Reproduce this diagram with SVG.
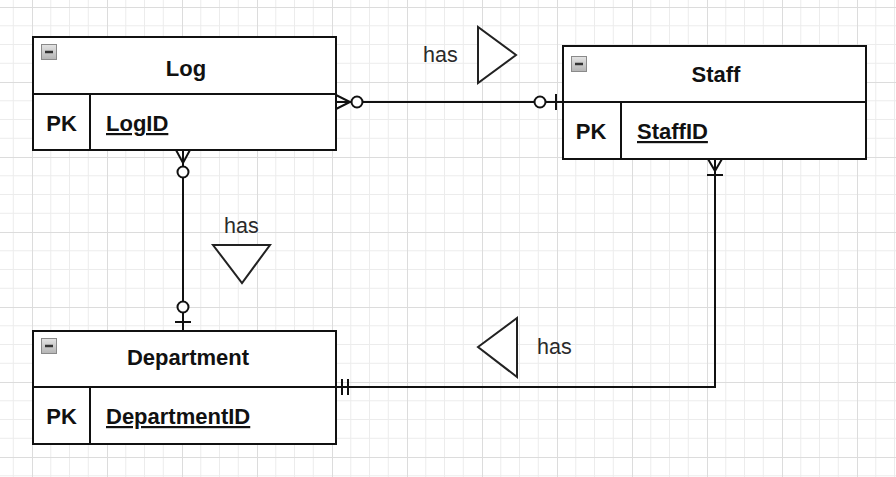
<svg xmlns="http://www.w3.org/2000/svg" width="896" height="477" viewBox="0 0 896 477">
  <defs>
    <pattern id="grid" patternUnits="userSpaceOnUse" x="32" y="7" width="75" height="75">
      <g stroke="#ececec" stroke-width="1">
        <line x1="18.75" y1="0" x2="18.75" y2="75"/>
        <line x1="37.5" y1="0" x2="37.5" y2="75"/>
        <line x1="56.25" y1="0" x2="56.25" y2="75"/>
        <line x1="0" y1="18.75" x2="75" y2="18.75"/>
        <line x1="0" y1="37.5" x2="75" y2="37.5"/>
        <line x1="0" y1="56.25" x2="75" y2="56.25"/>
      </g>
      <g stroke="#dcdcdc" stroke-width="1">
        <line x1="0.5" y1="0" x2="0.5" y2="75"/>
        <line x1="0" y1="0.5" x2="75" y2="0.5"/>
      </g>
    </pattern>
    <linearGradient id="btn" x1="0" y1="0" x2="0" y2="1">
      <stop offset="0" stop-color="#e4e4e4"/>
      <stop offset="1" stop-color="#b4b4b4"/>
    </linearGradient>
  </defs>
  <style>
    .ent { fill: #ffffff; stroke: #111111; stroke-width: 2; }
    .div { stroke: #111111; stroke-width: 2; }
    .title { font-family: "Liberation Sans", Arial, sans-serif; font-size: 22px; font-weight: bold; fill: #111111; text-anchor: middle; }
    .pk { font-family: "Liberation Sans", Arial, sans-serif; font-size: 22px; font-weight: bold; fill: #111111; text-anchor: middle; }
    .attr { font-family: "Liberation Sans", Arial, sans-serif; font-size: 22px; font-weight: bold; fill: #111111; text-decoration: underline; }
    .lbl { font-family: "Liberation Sans", Arial, sans-serif; font-size: 21.5px; fill: #2a2a2a; }
    .btn { fill: url(#btn); stroke: #8a8a8a; stroke-width: 1; }
    .dash { stroke: #333333; stroke-width: 2.5; }
    .conn { fill: none; stroke: #111111; stroke-width: 2; }
    .circ { fill: #ffffff; stroke: #111111; stroke-width: 2; }
    .tri { fill: #ffffff; stroke: #222222; stroke-width: 2; }
  </style>
  <rect x="0" y="0" width="896" height="477" fill="#ffffff"/>
  <rect x="0" y="0" width="896" height="477" fill="url(#grid)"/>

  <g id="connectors">
    <!-- Log - Staff -->
    <line class="conn" x1="336" y1="102" x2="563" y2="102"/>
    <polyline class="conn" points="336,95 350,102 336,109"/>
    <circle class="circ" cx="357" cy="102" r="5.5"/>
    <circle class="circ" cx="540" cy="102" r="5.5"/>
    <line class="conn" x1="556" y1="94" x2="556" y2="110"/>
    <!-- Log - Department -->
    <line class="conn" x1="183" y1="150" x2="183" y2="331"/>
    <polyline class="conn" points="176,150 183,163 190,150"/>
    <circle class="circ" cx="183" cy="172" r="5.5"/>
    <circle class="circ" cx="183" cy="307" r="5.5"/>
    <line class="conn" x1="175" y1="322" x2="191" y2="322"/>
    <!-- Staff - Department -->
    <polyline class="conn" points="715,159 715,387 336,387"/>
    <polyline class="conn" points="708,159 715,171 722,159"/>
    <line class="conn" x1="707" y1="175" x2="723" y2="175"/>
    <line class="conn" x1="342" y1="379" x2="342" y2="395"/>
    <line class="conn" x1="348" y1="379" x2="348" y2="395"/>
  </g>

  <g id="rel-log-staff">
    <polygon class="tri" points="478,27 478,83 516,55"/>
    <text class="lbl" x="423" y="62">has</text>
  </g>
  <g id="rel-log-dept">
    <polygon class="tri" points="213,245 270,245 242,283"/>
    <text class="lbl" x="224" y="233">has</text>
  </g>
  <g id="rel-staff-dept">
    <polygon class="tri" points="478,347 517,318 517,377"/>
    <text class="lbl" x="537" y="354">has</text>
  </g>

  <g id="log">
    <rect class="ent" x="33" y="37" width="303" height="113"/>
    <line class="div" x1="33" y1="94" x2="336" y2="94"/>
    <line class="div" x1="90" y1="94" x2="90" y2="150"/>
    <rect class="btn" x="41.5" y="44.5" width="15" height="15"/>
    <line class="dash" x1="45" y1="52" x2="53" y2="52"/>
    <text class="title" x="186" y="76">Log</text>
    <text class="pk" x="61.5" y="131">PK</text>
    <text class="attr" x="106" y="131">LogID</text>
  </g>

  <g id="staff">
    <rect class="ent" x="563" y="46" width="303" height="113"/>
    <line class="div" x1="563" y1="102" x2="866" y2="102"/>
    <line class="div" x1="621" y1="102" x2="621" y2="159"/>
    <rect class="btn" x="571.5" y="56.5" width="15" height="15"/>
    <line class="dash" x1="575" y1="64" x2="583" y2="64"/>
    <text class="title" x="716" y="82">Staff</text>
    <text class="pk" x="591" y="139">PK</text>
    <text class="attr" x="637" y="139">StaffID</text>
  </g>

  <g id="department">
    <rect class="ent" x="33" y="331" width="303" height="113"/>
    <line class="div" x1="33" y1="387" x2="336" y2="387"/>
    <line class="div" x1="90" y1="387" x2="90" y2="444"/>
    <rect class="btn" x="41.5" y="338.5" width="15" height="15"/>
    <line class="dash" x1="45" y1="346" x2="53" y2="346"/>
    <text class="title" x="188" y="365">Department</text>
    <text class="pk" x="61.5" y="424">PK</text>
    <text class="attr" x="106" y="424">DepartmentID</text>
  </g>
</svg>
